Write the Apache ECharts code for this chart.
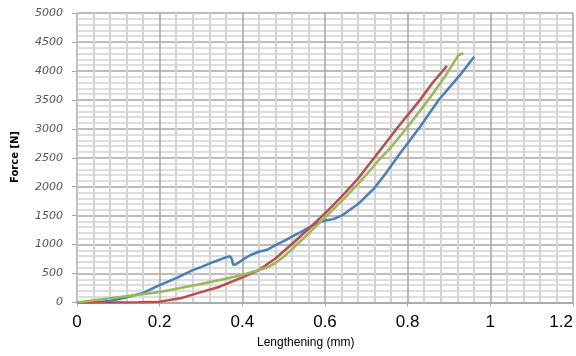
<!DOCTYPE html>
<html>
<head>
<meta charset="utf-8">
<script src="https://cdn.jsdelivr.net/npm/echarts@6/dist/echarts.min.js"></script>
<style>html,body{margin:0;padding:0;background:#fff}#c{width:576px;height:356px}</style>
</head>
<body>
<div id="c"></div>
<script>
var xTicks = [0, 0.2, 0.4, 0.6, 0.8, 1, 1.2];
var yTicks = [0, 500, 1000, 1500, 2000, 2500, 3000, 3500, 4000, 4500, 5000];
var blueData = [[0,0],[0.04,3],[0.08,25],[0.12,90],[0.16,165],[0.2,300],[0.24,420],[0.28,560],[0.30,610],[0.33,700],[0.36,780],[0.37,800],[0.374,760],[0.378,650],[0.385,660],[0.40,735],[0.42,820],[0.44,877],[0.46,910],[0.48,990],[0.50,1060],[0.52,1138],[0.54,1210],[0.56,1290],[0.58,1370],[0.60,1415],[0.62,1440],[0.64,1500],[0.68,1700],[0.72,1980],[0.75,2260],[0.78,2560],[0.83,3036],[0.875,3497],[0.93,3958],[0.961,4245]];
var redData = [[0,0],[0.08,0],[0.15,5],[0.2,15],[0.25,72],[0.30,180],[0.345,273],[0.40,433],[0.44,561],[0.48,760],[0.52,1010],[0.56,1270],[0.60,1540],[0.64,1830],[0.68,2140],[0.73,2600],[0.78,3060],[0.83,3500],[0.86,3790],[0.895,4090]];
var greenData = [[0,0],[0.08,72],[0.2,180],[0.3,320],[0.345,389],[0.40,475],[0.44,561],[0.46,605],[0.48,680],[0.50,790],[0.52,920],[0.56,1190],[0.60,1470],[0.64,1750],[0.68,2050],[0.71,2288],[0.73,2460],[0.754,2634],[0.80,3036],[0.85,3497],[0.89,3900],[0.923,4275],[0.935,4304]];
var seriesNames = ['Sample 1', 'Sample 2', 'Sample 3'];
var seriesColors = ['#4a7ebb', '#be4b48', '#98b954'];

var chart = echarts.init(document.getElementById('c'), null, {renderer: 'canvas'});
chart.setOption({
  animation: false,
  backgroundColor: '#fff',
  grid: {left: 77, right: 1, top: 13, bottom: 53.5, containLabel: false},
  xAxis: {
    type: 'value', min: xTicks[0], max: xTicks[xTicks.length - 1], interval: 0.2,
    axisLine: {show: true, lineStyle: {color: '#a6a6a6', width: 1.5}},
    axisTick: {show: true, length: 4, lineStyle: {color: '#a6a6a6'}},
    axisLabel: {color: '#000', fontSize: 17, fontFamily: 'Liberation Sans', margin: 11, alignMaxLabel: 'right',
      formatter: function (v) { return String(Math.round(v * 10) / 10); }},
    splitLine: {show: true, lineStyle: {color: '#a6a6a6', width: 1.5}},
    minorTick: {show: false, splitNumber: 5},
    minorSplitLine: {show: true, lineStyle: {color: '#d4d4d4', width: 2}}
  },
  yAxis: {
    type: 'value', min: yTicks[0], max: yTicks[yTicks.length - 1], interval: 500,
    axisLine: {show: true, lineStyle: {color: '#c8c8c8', width: 1}},
    axisTick: {show: true, length: 5, lineStyle: {color: '#a6a6a6'}},
    axisLabel: {color: '#555', fontSize: 11, fontStyle: 'italic', fontFamily: 'DejaVu Sans', margin: 14,
      formatter: function (v) { return String(v); }},
    splitLine: {show: true, lineStyle: {color: '#a6a6a6', width: 1.5}},
    minorTick: {show: false, splitNumber: 5},
    minorSplitLine: {show: true, lineStyle: {color: '#d4d4d4', width: 1.5}}
  },
  graphic: [
    {type: 'text', left: 257, top: 337, style: {text: 'Lengthening (mm)', font: '12px "Liberation Sans"', fill: '#000'}},
    {type: 'text', x: 10, y: 183, rotation: Math.PI / 2, style: {text: 'Force [N]', font: 'bold 10px "DejaVu Sans"', fill: '#000'}}
  ],
  series: [
    {name: seriesNames[0], type: 'line', data: blueData, showSymbol: false, lineStyle: {color: seriesColors[0], width: 2.5}, z: 3},
    {name: seriesNames[1], type: 'line', data: redData, showSymbol: false, lineStyle: {color: seriesColors[1], width: 2.5}, z: 4},
    {name: seriesNames[2], type: 'line', data: greenData, showSymbol: false, lineStyle: {color: seriesColors[2], width: 2.5}, z: 5}
  ]
});
</script>
</body>
</html>
